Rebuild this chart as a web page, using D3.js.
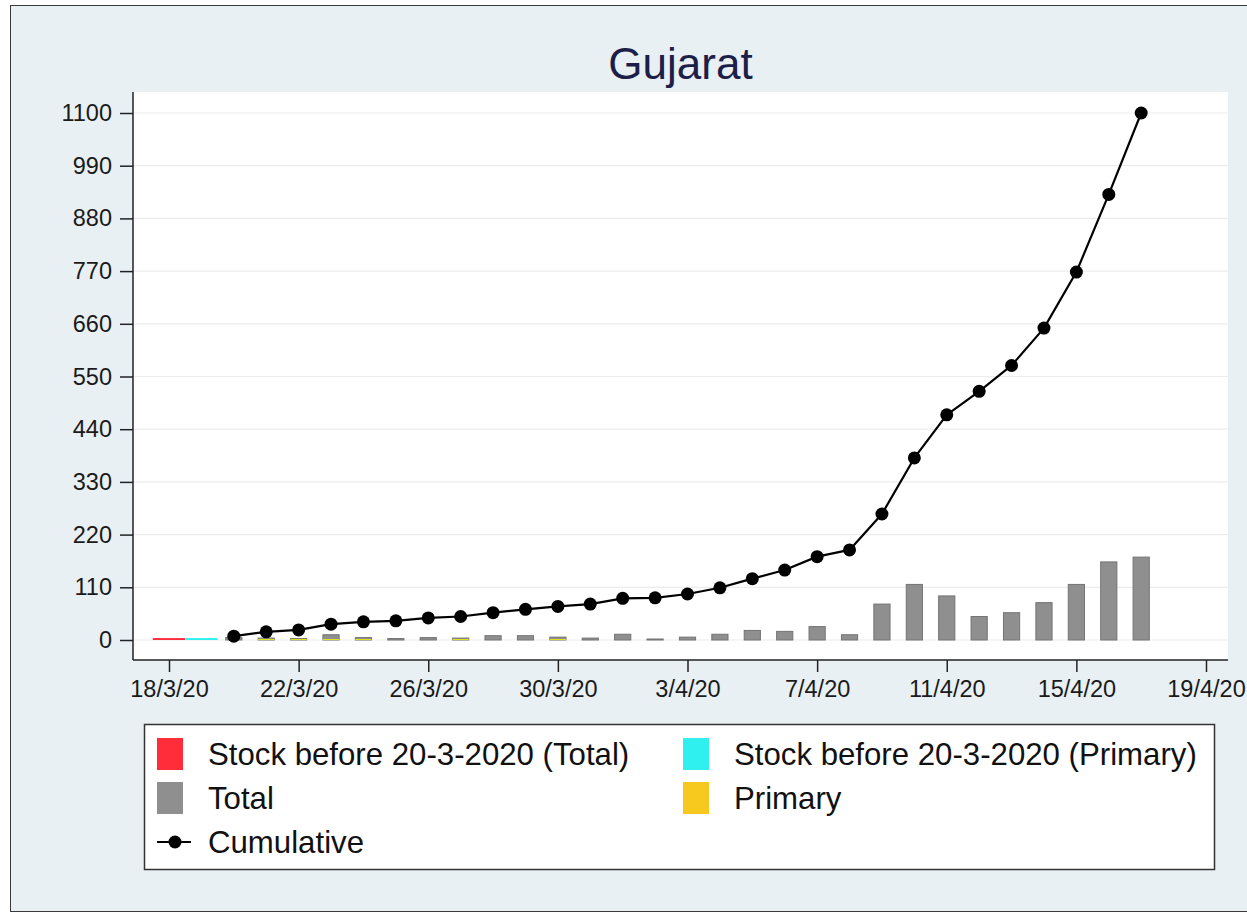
<!DOCTYPE html>
<html>
<head>
<meta charset="utf-8">
<script src="https://cdn.jsdelivr.net/npm/d3@7"></script>
<style>
  body { margin: 0; background: #fff; }
  text { font-family: "Liberation Sans", Arial, sans-serif; }
</style>
</head>
<body>
<script>
// daily dates shown as bars + cumulative line
var dates = ["20/3/20","21/3/20","22/3/20","23/3/20","24/3/20","25/3/20","26/3/20","27/3/20","28/3/20","29/3/20",
             "30/3/20","31/3/20","1/4/20","2/4/20","3/4/20","4/4/20","5/4/20","6/4/20","7/4/20","8/4/20",
             "9/4/20","10/4/20","11/4/20","12/4/20","13/4/20","14/4/20","15/4/20","16/4/20","17/4/20"];
var total = [5, 4, 3, 11, 5, 3, 5, 4, 9, 9,
             6, 4, 12, 2, 6, 12, 20, 18, 28, 11,
             75, 116, 92, 49, 57, 78, 116, 163, 173];
var primary = [0, 2, 2, 2, 2, 0, 0, 2, 0, 0,
               2, 0, 0, 0, 0, 0, 0, 0, 0, 0,
               0, 0, 0, 0, 0, 0, 0, 0, 0];
var cumulative = [8, 17, 21, 33, 38, 40, 46, 49, 57, 64,
                  70, 75, 87, 88, 96, 109, 128, 146, 174, 188,
                  263, 380, 470, 519, 573, 651, 768, 930, 1100];

// stock before 20-3-2020
var stockTotalDate = ["18/3/20"];
var stockTotal = [4];
var stockPrimaryDate = ["19/3/20"];
var stockPrimary = [4];

var xTickLabels = ["18/3/20","22/3/20","26/3/20","30/3/20","3/4/20","7/4/20","11/4/20","15/4/20","19/4/20"];
var yTicks = [0, 110, 220, 330, 440, 550, 660, 770, 880, 990, 1100];

var W = 1247, H = 913;
var parse = d3.utcParse("%d/%m/%y");
var fmt = d3.utcFormat("%-d/%-m/%y");

var svg = d3.select("body").append("svg")
    .attr("width", W)
    .attr("height", H);

// graph region background + frame
svg.append("rect")
    .attr("x", 0).attr("y", 0).attr("width", W).attr("height", H)
    .attr("fill", "#ffffff");
svg.append("rect")
    .attr("x", 10.5).attr("y", 5.5).attr("width", W).attr("height", 906)
    .attr("fill", "#e9f0f3")
    .attr("stroke", "#3a3a3a")
    .attr("stroke-width", 1);

// plot box (don't call it "top", window.top is taken)
var pLeft = 133, pRight = 1228, pTop = 92, pBottom = 660;

// white plot region
svg.append("rect")
    .attr("x", pLeft).attr("y", pTop)
    .attr("width", pRight - pLeft).attr("height", pBottom - pTop)
    .attr("fill", "#ffffff");

var x = d3.scaleUtc()
    .domain([parse("18/3/20"), parse("19/4/20")])
    .range([169, 1206]);

var y = d3.scaleLinear()
    .domain([0, 1100])
    .range([640, 113]);

var day = x(parse("19/3/20")) - x(parse("18/3/20"));
var barW = day * 0.5;

// grid lines
svg.selectAll("line.grid")
    .data(yTicks)
    .enter()
    .append("line")
    .attr("class", "grid")
    .attr("x1", pLeft).attr("x2", pRight)
    .attr("y1", function(d) { return y(d); })
    .attr("y2", function(d) { return y(d); })
    .attr("stroke", "#eaecee")
    .attr("stroke-width", 1.2);

// stock bars (full day wide)
svg.selectAll("rect.stockT")
    .data(stockTotal)
    .enter()
    .append("rect")
    .attr("class", "stockT")
    .attr("x", function(d, i) { return x(parse(stockTotalDate[i])) - day / 2; })
    .attr("y", function(d) { return y(d); })
    .attr("width", day)
    .attr("height", function(d) { return y(0) - y(d); })
    .attr("fill", "#ff2d3a");

svg.selectAll("rect.stockP")
    .data(stockPrimary)
    .enter()
    .append("rect")
    .attr("class", "stockP")
    .attr("x", function(d, i) { return x(parse(stockPrimaryDate[i])) - day / 2; })
    .attr("y", function(d) { return y(d); })
    .attr("width", day)
    .attr("height", function(d) { return y(0) - y(d); })
    .attr("fill", "#2ff0ee");

// total bars
svg.selectAll("rect.total")
    .data(total)
    .enter()
    .append("rect")
    .attr("class", "total")
    .attr("x", function(d, i) { return x(parse(dates[i])) - barW / 2; })
    .attr("y", function(d) { return y(d); })
    .attr("width", barW)
    .attr("height", function(d) { return y(0) - y(d); })
    .attr("fill", "#8f8f8f")
    .attr("stroke", "#747474")
    .attr("stroke-width", 1);

// primary bars (on top)
svg.selectAll("rect.primary")
    .data(primary)
    .enter()
    .append("rect")
    .attr("class", "primary")
    .attr("x", function(d, i) { return x(parse(dates[i])) - barW / 2; })
    .attr("y", function(d) { return y(d); })
    .attr("width", barW)
    .attr("height", function(d) { return y(0) - y(d); })
    .attr("fill", "#e3e61a");

// cumulative line
var line = d3.line()
    .x(function(d, i) { return x(parse(dates[i])); })
    .y(function(d) { return y(d); });

svg.append("path")
    .datum(cumulative)
    .attr("d", line)
    .attr("fill", "none")
    .attr("stroke", "#000")
    .attr("stroke-width", 2.2)
    .attr("stroke-linejoin", "round");

svg.selectAll("circle.pt")
    .data(cumulative)
    .enter()
    .append("circle")
    .attr("class", "pt")
    .attr("cx", function(d, i) { return x(parse(dates[i])); })
    .attr("cy", function(d) { return y(d); })
    .attr("r", 6.5)
    .attr("fill", "#000");

// axes
var yAxis = d3.axisLeft(y).tickValues(yTicks).tickFormat(d3.format("d")).tickSize(13).tickPadding(8);
var gy = svg.append("g").attr("transform", "translate(" + pLeft + ",0)").call(yAxis);
gy.select(".domain").remove();
gy.append("line").attr("x1", 0).attr("x2", 0).attr("y1", pTop).attr("y2", pBottom)
    .attr("stroke", "#222").attr("stroke-width", 1.5);

var xAxis = d3.axisBottom(x)
    .tickValues(xTickLabels.map(parse))
    .tickFormat(fmt)
    .tickSize(12).tickPadding(8);
var gx = svg.append("g").attr("transform", "translate(0," + pBottom + ")").call(xAxis);
gx.select(".domain").remove();
gx.append("line").attr("x1", pLeft).attr("x2", pRight).attr("y1", 0).attr("y2", 0)
    .attr("stroke", "#222").attr("stroke-width", 1.5);

svg.selectAll(".tick line").attr("stroke", "#222").attr("stroke-width", 1.5);
svg.selectAll(".tick text")
    .attr("font-size", 23.5)
    .attr("fill", "#1a1a1a")
    .style("font-family", "'Liberation Sans', Arial, sans-serif");

// title
svg.append("text")
    .attr("x", (pLeft + pRight) / 2)
    .attr("y", 79)
    .attr("text-anchor", "middle")
    .attr("font-size", 44)
    .attr("fill", "#1c2048")
    .text("Gujarat");

// legend
var lg = svg.append("g");
lg.append("rect")
    .attr("x", 144.5).attr("y", 724.5).attr("width", 1070).attr("height", 145)
    .attr("fill", "#fff").attr("stroke", "#333").attr("stroke-width", 1.5);

var legendItems = [
    {label: "Stock before 20-3-2020 (Total)", color: "#ff2d3a", kx: 157, ky: 738},
    {label: "Stock before 20-3-2020 (Primary)", color: "#2ff0ee", kx: 683, ky: 738},
    {label: "Total", color: "#8f8f8f", kx: 157, ky: 782},
    {label: "Primary", color: "#f7c81e", kx: 683, ky: 782}
];
legendItems.forEach(function(d) {
    lg.append("rect")
        .attr("x", d.kx).attr("y", d.ky).attr("width", 26).attr("height", 32)
        .attr("fill", d.color);
    lg.append("text")
        .attr("x", d.kx + 51).attr("y", d.ky + 27)
        .attr("font-size", 31.2)
        .attr("fill", "#111")
        .text(d.label);
});
lg.append("line")
    .attr("x1", 157).attr("x2", 191).attr("y1", 842).attr("y2", 842)
    .attr("stroke", "#000").attr("stroke-width", 2.2);
lg.append("circle").attr("cx", 175).attr("cy", 842).attr("r", 6.5).attr("fill", "#000");
lg.append("text")
    .attr("x", 208).attr("y", 853)
    .attr("font-size", 31.2)
    .attr("fill", "#111")
    .text("Cumulative");
</script>
</body>
</html>
